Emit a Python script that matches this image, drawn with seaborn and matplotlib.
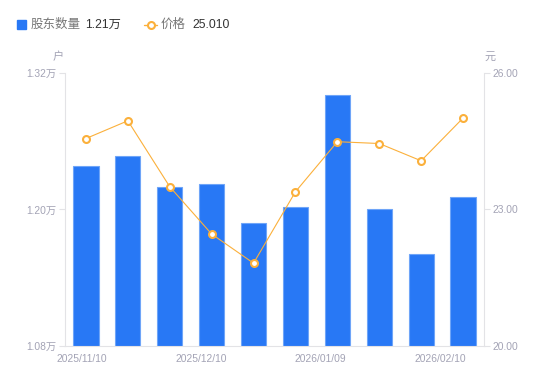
import matplotlib
matplotlib.use('Agg')
import matplotlib.pyplot as plt
import seaborn as sns
import numpy as np
from matplotlib.patches import Rectangle
from matplotlib.lines import Line2D

# data
dates = ['2025/11/10', '2025/11/20', '2025/11/28', '2025/12/10', '2025/12/19',
         '2025/12/31', '2026/01/09', '2026/01/20', '2026/01/30', '2026/02/10']
holders = [1.238, 1.247, 1.220, 1.222, 1.188, 1.202, 1.301, 1.200, 1.161, 1.211]  # 万户
price = [24.56, 24.95, 23.50, 22.46, 21.82, 23.39, 24.49, 24.45, 24.07, 25.01]
left_ticks = [1.08, 1.20, 1.32]
right_ticks = [20.00, 23.00, 26.00]
shown_dates = ['2025/11/10', '2025/12/10', '2026/01/09', '2026/02/10']

sns.set_style('white')
plt.rcParams['font.family'] = ['Liberation Sans', 'Noto Sans CJK SC', 'DejaVu Sans']

blue = '#2878f5'
orange = '#fbb03b'
grey = '#a3a3b5'
axis_c = '#e3e3e6'

fig = plt.figure(figsize=(5.5, 3.81), dpi=100)
ax = fig.add_axes([0.1182, 0.0919, 0.7618, 0.7165])

sns.barplot(x=list(range(len(dates))), y=holders, ax=ax, color=blue,
            width=0.6, edgecolor='#6fa5f8', linewidth=0.8, saturation=1)
ax.set_ylim(left_ticks[0], left_ticks[-1])
ax.set_xlim(-0.5, len(dates) - 0.5)
ax.set_yticks(left_ticks)
ax.set_yticklabels([f'{v:.2f}万' for v in left_ticks])

# x labels spread evenly like the original layout
pos = np.linspace(-0.1, 8.45, len(shown_dates))
ax.set_xticks(pos)
ax.set_xticklabels(shown_dates)

ax2 = ax.twinx()
sns.lineplot(x=np.arange(len(dates)), y=price, ax=ax2, color=orange, linewidth=0.8,
             marker='o', markersize=5, markerfacecolor='white',
             markeredgecolor=orange, markeredgewidth=1.5)
ax2.set_ylim(right_ticks[0], right_ticks[-1])
ax2.set_yticks(right_ticks)
ax2.set_yticklabels([f'{v:.2f}' for v in right_ticks])

for a in (ax, ax2):
    for s in a.spines.values():
        s.set_visible(False)
ax.spines['left'].set_visible(True)
ax.spines['left'].set_color(axis_c)
ax.spines['bottom'].set_visible(True)
ax.spines['bottom'].set_color(axis_c)
ax2.spines['right'].set_visible(True)
ax2.spines['right'].set_color(axis_c)

ax.tick_params(axis='y', colors=grey, labelsize=7.4, length=4, width=0.8, color=axis_c, pad=2, left=True)
ax.tick_params(axis='x', colors=grey, labelsize=7.4, length=0, pad=6)
ax2.tick_params(axis='y', colors=grey, labelsize=7.4, length=4, width=0.8, color=axis_c, pad=2, right=True)
for t in ax.get_yticklabels() + ax.get_xticklabels() + ax2.get_yticklabels():
    t.set_color(grey)

fig.text(58 / 550, 1 - 57 / 381, '户', color=grey, fontsize=8, ha='center', va='center')
fig.text(490 / 550, 1 - 57 / 381, '元', color=grey, fontsize=8, ha='center', va='center')

# legend
fig.patches.append(Rectangle((17 / 550, 1 - 29 / 381), 9 / 550, 9 / 381,
                             transform=fig.transFigure, color=blue))
fig.text(31 / 550, 1 - 24.5 / 381, '股东数量', color='#777', fontsize=9, va='center')
fig.text(85 / 550, 1 - 24.5 / 381, f'{holders[-1]:.2f}万', color='#333', fontsize=8.8, va='center')
fig.lines.append(Line2D([144 / 550, 157 / 550], [1 - 24.5 / 381] * 2, transform=fig.transFigure,
                        color=orange, linewidth=1))
fig.lines.append(Line2D([150.5 / 550], [1 - 24.5 / 381], transform=fig.transFigure,
                        color=orange, marker='o', markersize=5, markerfacecolor='white',
                        markeredgewidth=1.5))
fig.text(161 / 550, 1 - 24.5 / 381, '价格', color='#777', fontsize=9, va='center')
fig.text(192 / 550, 1 - 24.5 / 381, f'{price[-1]:.3f}', color='#333', fontsize=8.8, va='center')

fig.savefig('out.png', dpi=100)
